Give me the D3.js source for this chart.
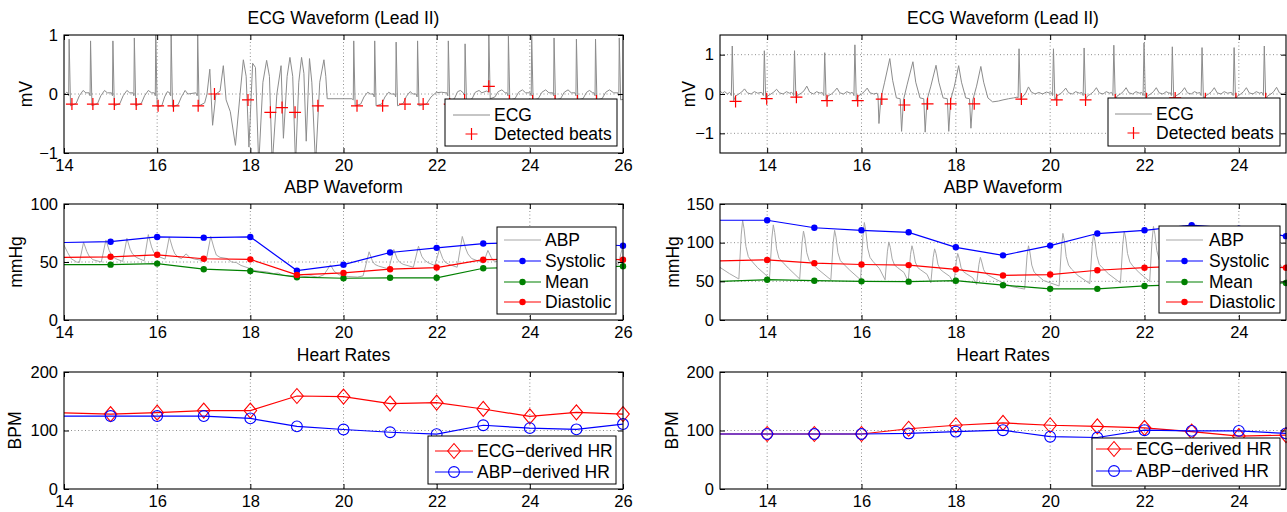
<!DOCTYPE html>
<html>
<head>
<meta charset="utf-8">
<script src="https://cdn.jsdelivr.net/npm/d3@7"></script>
<style>
  body { margin: 0; background: #fff; }
  svg { display: block; }
</style>
</head>
<body>
<svg id="chart" width="1287" height="512"></svg>
<script>
// ---- data ----

// ECG waveform, left record: [time s, mV]
const ecgLeft = [
  [13.95,0.02],[14.02,0.0],[14.06,0.03],
  [14.08,0.02],[14.10,-0.03],[14.11,0.93],[14.14,-0.2],[14.26,-0.16],[14.33,-0.03],[14.41,0.06],[14.47,0.02],
  [14.54,0.02],[14.56,-0.03],[14.57,0.9],[14.60,-0.2],[14.72,-0.16],[14.79,-0.03],[14.87,0.06],[14.93,0.02],
  [15.02,0.02],[15.04,-0.03],[15.05,0.9],[15.08,-0.2],[15.20,-0.16],[15.27,-0.03],[15.35,0.06],[15.41,0.02],
  [15.48,0.02],[15.50,-0.03],[15.51,0.95],[15.54,-0.2],[15.66,-0.16],[15.73,-0.03],[15.81,0.06],[15.88,0.02],
  [15.94,0.02],[15.96,-0.03],[15.97,1.0],[16.0,-0.22],[16.1,-0.2],[16.16,-0.05],[16.22,0.04],[16.27,0.02],
  [16.29,-0.03],[16.30,1.0],[16.33,-0.22],[16.45,-0.18],[16.52,-0.05],[16.6,0.06],[16.66,0.0],[16.83,0.02],
  [16.86,-0.03],[16.87,1.0],[16.90,-0.2],[17.02,-0.15],[17.07,0.0],
  [17.13,0.42],[17.19,-0.53],[17.26,0.0],[17.35,0.05],[17.42,0.48],[17.48,-0.1],[17.57,-0.3],[17.68,-0.87],
  [17.78,0.0],[17.85,0.58],[17.91,0.3],[17.97,-0.9],[18.05,0.52],[18.11,0.45],[18.18,-1.2],[18.27,0.2],
  [18.35,0.57],[18.41,0.3],[18.47,-1.2],[18.57,0.0],[18.66,0.48],[18.71,-0.75],[18.79,0.3],[18.85,0.62],
  [18.91,0.3],[18.97,-1.2],[19.04,0.2],[19.1,0.62],[19.15,0.35],[19.2,-0.8],[19.27,0.6],[19.32,0.2],
  [19.4,-1.2],[19.49,0.2],[19.58,0.58],[19.62,0.3],[19.65,-0.08],[20.18,-0.08],
  [20.21,-0.1],[20.22,0.9],[20.25,-0.2],[20.37,-0.17],[20.44,-0.05],[20.52,0.03],[20.58,0.0],
  [20.64,0.0],[20.66,-0.05],[20.67,0.9],[20.70,-0.2],[20.82,-0.17],[20.89,-0.05],[20.97,0.03],[21.03,0.0],
  [21.10,0.0],[21.12,-0.05],[21.13,0.88],[21.16,-0.2],[21.28,-0.16],[21.35,-0.04],[21.43,0.04],[21.49,0.0],
  [21.56,0.0],[21.58,-0.05],[21.59,0.9],[21.62,-0.2],[21.78,-0.17],[21.88,-0.05],[21.98,0.02],[22.1,0.03],[22.2,0.02],
  [22.22,0.02],[22.24,-0.03],[22.25,0.9],[22.28,-0.12],[22.38,-0.08],[22.45,0.04],[22.51,0.06],[22.57,0.02],
  [22.60,-0.03],[22.61,0.85],[22.64,-0.12],[22.76,-0.08],[22.83,0.03],[22.91,0.06],[22.97,0.02],[23.07,0.05],
  [23.11,0.03],[23.12,1.0],[23.15,-0.08],[23.25,-0.05],[23.32,0.04],[23.4,0.07],[23.47,0.02],
  [23.51,0.02],[23.53,-0.03],[23.54,0.98],[23.57,-0.1],[23.68,-0.08],[23.76,0.03],[23.84,0.07],[23.91,0.02],
  [24.01,0.02],[24.03,-0.03],[24.04,0.98],[24.07,-0.1],[24.18,-0.08],[24.26,0.03],[24.34,0.07],[24.41,0.02],
  [24.49,0.02],[24.51,-0.03],[24.52,0.95],[24.55,-0.1],[24.66,-0.08],[24.74,0.03],[24.82,0.07],[24.89,0.02],
  [24.97,0.02],[24.99,-0.03],[25.0,0.93],[25.03,-0.1],[25.14,-0.08],[25.22,0.03],[25.28,0.06],[25.35,0.02],
  [25.38,0.02],[25.40,-0.03],[25.41,0.93],[25.44,-0.1],[25.55,-0.08],[25.63,0.03],[25.71,0.07],[25.8,0.02],
  [25.89,0.02],[25.91,-0.03],[25.92,0.95],[25.95,-0.1],[26.05,-0.08]
];
const beatLeftT = [14.17,14.62,15.08,15.55,16.02,16.35,16.88,17.23,17.95,18.43,18.68,18.96,19.45,
                   20.29,20.84,21.32,21.71,22.28,22.6,23.12,23.56,24.06,24.54,25.02,25.43];
const beatLeftV = [-0.17,-0.17,-0.17,-0.17,-0.2,-0.2,-0.2,0.0,-0.1,-0.31,-0.23,-0.31,-0.2,
                   -0.2,-0.2,-0.17,-0.17,-0.17,-0.1,0.13,-0.12,-0.12,-0.12,-0.12,-0.12];

// ECG waveform, right record
const ecgRight = [
  [12.95,0.05],[13.0,0.08],[13.05,0.02],[13.1,0.06],[13.16,0.0],[13.2,0.04],
  [13.22,0.02],[13.24,-0.04],[13.26,1.22],[13.29,-0.17],[13.33,-0.05],[13.4,0.0],[13.46,0.05],[13.52,0.13],[13.58,0.03],[13.66,0.0],[13.73,0.06],[13.8,0.02],[13.87,0.04],
  [13.9,0.02],[13.92,-0.04],[13.94,1.1],[13.97,-0.15],[14.01,-0.05],[14.08,0.0],[14.14,0.05],[14.2,0.12],[14.26,0.03],[14.34,0.0],[14.41,0.06],[14.47,0.02],[14.52,0.04],
  [14.54,0.02],[14.56,-0.04],[14.58,1.1],[14.61,-0.1],[14.65,-0.03],[14.72,0.02],[14.78,0.08],[14.84,0.2],[14.9,0.05],[14.98,0.0],[15.05,0.06],[15.12,0.02],[15.16,0.04],
  [15.18,0.02],[15.2,-0.04],[15.22,1.05],[15.25,-0.15],[15.29,-0.05],[15.36,0.0],[15.42,0.06],[15.48,0.15],[15.54,0.03],[15.62,0.0],[15.69,0.06],[15.76,0.02],[15.8,0.04],
  [15.82,0.02],[15.84,-0.04],[15.86,1.25],[15.89,-0.17],[15.93,-0.05],[16.0,0.0],[16.06,0.06],[16.12,0.15],[16.18,0.03],[16.26,0.0],[16.33,0.02],
  [16.35,-0.05],[16.37,-0.75],[16.41,-0.12],[16.49,0.3],[16.6,0.9],[16.66,0.35],[16.74,-0.1],[16.82,-0.12],
  [16.85,-0.95],[16.89,-0.15],[16.97,0.25],[17.09,0.82],[17.15,0.3],[17.24,-0.1],[17.32,-0.12],
  [17.35,-0.97],[17.39,-0.15],[17.47,0.2],[17.58,0.73],[17.64,0.3],[17.73,-0.1],[17.82,-0.12],
  [17.85,-0.95],[17.89,-0.15],[17.97,0.2],[18.06,0.72],[18.12,0.3],[18.21,-0.1],[18.29,-0.12],
  [18.32,-0.87],[18.36,-0.15],[18.44,0.2],[18.53,0.7],[18.59,0.3],[18.68,-0.1],[18.78,-0.2],[18.9,-0.18],[19.0,-0.15],[19.12,-0.12],[19.22,-0.1],[19.3,-0.08],
  [19.32,-0.1],[19.34,1.15],[19.37,-0.15],[19.41,-0.08],[19.48,0.02],[19.54,0.18],[19.6,0.05],[19.68,0.0],[19.76,0.04],[19.84,0.0],[19.92,0.05],[20.0,0.02],
  [20.03,0.03],[20.05,-0.04],[20.07,1.15],[20.1,-0.15],[20.14,-0.05],[20.21,0.0],[20.27,0.06],[20.33,0.15],[20.39,0.03],[20.47,0.0],[20.54,0.06],[20.62,0.02],[20.67,0.04],
  [20.68,0.02],[20.7,-0.04],[20.72,1.17],[20.75,-0.15],[20.79,-0.05],[20.86,0.0],[20.92,0.06],[20.98,0.16],[21.04,0.03],[21.12,0.0],[21.19,0.06],[21.26,0.02],[21.3,0.04],
  [21.31,0.02],[21.33,-0.04],[21.35,1.24],[21.38,-0.15],[21.42,-0.05],[21.49,0.0],[21.55,0.06],[21.61,0.16],[21.67,0.03],[21.75,0.0],[21.82,0.06],[21.89,0.02],[21.94,0.04],
  [21.95,0.02],[21.97,-0.04],[21.99,1.3],[22.02,-0.15],[22.06,-0.05],[22.13,0.0],[22.19,0.06],[22.25,0.16],[22.31,0.03],[22.39,0.0],[22.46,0.06],[22.52,0.02],
  [22.55,0.03],[22.57,-0.04],[22.59,1.2],[22.62,-0.15],[22.66,-0.05],[22.73,0.0],[22.79,0.06],[22.85,0.16],[22.91,0.03],[22.99,0.0],[23.06,0.06],[23.13,0.02],[23.17,0.04],
  [23.18,0.02],[23.2,-0.04],[23.22,1.18],[23.25,-0.15],[23.29,-0.05],[23.36,0.0],[23.42,0.06],[23.48,0.16],[23.54,0.03],[23.62,0.0],[23.69,0.06],[23.76,0.02],[23.84,0.04],
  [23.86,0.02],[23.88,-0.04],[23.9,1.18],[23.93,-0.15],[23.97,-0.05],[24.04,0.0],[24.1,0.06],[24.16,0.16],[24.22,0.03],[24.3,0.0],[24.37,0.06],[24.44,0.02],[24.49,0.04],
  [24.5,0.02],[24.52,-0.04],[24.54,1.22],[24.57,-0.15],[24.61,-0.05],[24.68,0.0],[24.74,0.06],[24.8,0.17],[24.86,0.03],[24.94,0.0],[25.01,0.06],[25.08,0.02]
];
const beatRightT = [13.33,13.99,14.62,15.27,15.92,16.43,16.91,17.40,17.89,18.39,19.39,20.14,20.75,21.38,22.04,22.65,23.29,23.94,24.57];
const beatRightV = [-0.19,-0.12,-0.08,-0.17,-0.17,-0.13,-0.28,-0.25,-0.25,-0.25,-0.13,-0.15,-0.15,-0.15,-0.12,-0.1,-0.12,-0.12,-0.12];

// ABP waveform, left record: [time s, mmHg]
const abpLeft = [
  [13.95,66],[14.0,64.5],[14.08,58],[14.15,53],[14.27,50],[14.33,49.5],
  [14.42,67],[14.49,59],[14.54,55],[14.62,52],[14.8,50],
  [14.9,69],[14.97,60],[15.02,56],[15.1,53],[15.26,50.5],
  [15.35,70.4],[15.42,61],[15.47,57],[15.55,54],[15.72,51],
  [15.81,73.6],[15.88,63],[15.93,58],[16.01,55],[16.17,52.5],
  [16.26,71.6],[16.33,62],[16.38,57],[16.46,54],[16.52,53],
  [16.62,57],[16.7,54],[16.8,52.5],[17.05,51],
  [17.15,72],[17.22,62],[17.27,56],[17.35,54],[17.5,53],[17.6,50],[17.7,49.5],[17.8,47],[17.95,45],
  [18.05,43],[18.2,42],[18.35,41.5],[18.5,40],[18.6,40.5],[18.7,38.5],[18.85,38],[19.0,38.5],
  [19.15,37.5],[19.3,38],[19.45,37],[19.58,39],
  [19.72,47.5],[19.8,42],[19.9,39],[20.1,37.5],[20.3,37],[20.42,38],
  [20.55,58.8],[20.62,51],[20.67,48],[20.75,46.5],[20.97,44],
  [21.08,60.8],[21.15,53],[21.2,50],[21.28,48],[21.5,45.5],
  [21.61,63.6],[21.68,55],[21.73,52],[21.81,49.5],[21.96,47],
  [22.06,60.8],[22.13,53],[22.18,50],[22.26,48],[22.44,45.5],
  [22.55,72],[22.62,62],[22.67,57],[22.75,53],[22.95,50],[23.0,49],
  [23.1,60],[23.17,54],[23.22,51],[23.32,50],[23.5,48],
  [23.6,66],[23.67,57],[23.72,53],[23.8,50],[23.98,48],
  [24.08,66],[24.15,57],[24.2,53],[24.28,50],[24.45,48],
  [24.55,65],[24.62,57],[24.67,53],[24.75,50],[24.95,48],
  [25.05,65],[25.12,57],[25.17,53],[25.25,50],[25.45,48],
  [25.55,64],[25.62,56],[25.67,52],[25.75,50],[25.9,48],
  [25.99,63],[26.05,57]
];

// ABP waveform, right record
const abpRight = [
  [12.95,72],[13.0,68],[13.2,60],[13.4,53],
  [13.45,110],[13.48,129],[13.51,118],[13.55,95],[13.6,82],[13.66,77],[13.8,67.5],[14.05,54],
  [14.1,106],[14.13,123],[14.16,113],[14.2,92],[14.25,80],[14.31,76],[14.45,67],[14.69,53],
  [14.74,100],[14.77,115],[14.8,106],[14.84,87],[14.89,77],[14.95,73],[15.09,65],[15.35,52],
  [15.4,100],[15.43,116],[15.46,107],[15.5,87],[15.55,77],[15.61,73],[15.75,64.5],[15.98,52],
  [16.03,108],[16.06,126],[16.09,116],[16.13,93],[16.18,81],[16.24,76],[16.38,66.5],[16.5,52],
  [16.55,89],[16.58,101],[16.61,94],[16.65,79],[16.7,71],[16.76,68],[16.9,61.5],[16.99,50],
  [17.04,85],[17.07,96],[17.1,89],[17.14,75],[17.19,68],[17.25,65],[17.39,59],[17.47,48],
  [17.52,81],[17.55,92],[17.58,86],[17.62,72],[17.67,65.5],[17.73,62.5],[17.87,56.5],[17.96,47],
  [18.01,76],[18.04,86],[18.07,80],[18.11,68],[18.16,62.5],[18.22,60],[18.36,54.5],[18.44,46],
  [18.49,72],[18.52,81],[18.55,75],[18.59,65],[18.64,60],[18.7,57.5],[18.84,53],[19.0,48],[19.2,43],[19.46,40],
  [19.51,83],[19.54,96],[19.57,88],[19.61,71],[19.66,62],[19.72,58.5],[19.86,51],[20.19,44],
  [20.24,95],[20.27,112],[20.3,103],[20.34,82],[20.39,71],[20.45,66],[20.59,57.5],[20.84,47],
  [20.89,95],[20.92,111],[20.95,102],[20.99,83],[21.04,72],[21.1,68],[21.24,59.5],[21.49,48],
  [21.54,98],[21.57,115],[21.6,106],[21.64,86],[21.69,75],[21.75,70],[21.89,61],[22.11,50],
  [22.16,103],[22.19,121],[22.22,111],[22.26,90],[22.31,78],[22.37,73],[22.51,64],[22.74,50],
  [22.79,104],[22.82,122],[22.85,112],[22.89,91],[22.94,79],[23.0,74],[23.14,64],[23.39,50],
  [23.44,101],[23.47,118],[23.5,109],[23.54,89],[23.59,77],[23.65,72],[23.79,63.5],[24.04,50],
  [24.09,99],[24.12,116],[24.15,107],[24.19,88],[24.24,76],[24.3,72],[24.44,63],[24.66,49],
  [24.71,93],[24.74,108],[24.77,100],[24.81,82],[24.86,72.5],[24.92,68.5],[25.06,60.5],[25.1,59]
];

// per-second ABP features
const secLeft = [14,15,16,17,18,19,20,21,22,23,24,25,26];
const sysLeft = [66.8,67.5,71.6,71,71.6,42.6,47.7,58.2,62.2,65.9,67,66.5,64];
const meanLeft = [47.7,47.7,48.6,43.8,42.3,36.9,36,36.4,36.4,44.6,45.5,46,46.3];
const diaLeft = [54,54.5,56.2,52.8,52.3,38.9,40.6,43.8,45.2,52,52.5,52.5,52];

const secRight = [13,14,15,16,17,18,19,20,21,22,23,24,25];
const sysRight = [129,129,119.3,116,113.4,94,83.6,96.2,111.8,116,122.7,118,108.4];
const meanRight = [50,52.1,50.8,50,49.6,50.8,45,40.3,40.3,44,46,47,47.9];
const diaRight = [76.5,77.7,73.5,71.8,71,65.5,57.6,58.8,64.3,67.6,70,70,67.6];

// heart rates (BPM)
const ecgHrLeft = [130,128,130.5,134,134,159,158,146,147.7,136.8,124,131,128];
const abpHrLeft = [124.7,124.7,124.7,124.7,120.7,107,101.7,97,93.7,109,104,102,111];
const ecgHrRight = [94,94,94,94,103,109,113,109,107,104.5,98,90.5,92];
const abpHrRight = [94,94,94,94,95,98,100.5,89.4,88,100.5,99.4,99.4,95];

const xTicksLeft = [14,16,18,20,22,24,26];
const xTicksRight = [14,16,18,20,22,24];

// ---- drawing ----
const FONT = '"Liberation Sans", Arial, Helvetica, sans-serif';
const BLUE = "#0000ff", GREEN = "#008000", RED = "#ff0000";
const ECG_GREY = "#8c8c8c", ABP_GREY = "#a8a8a8";
const fmt = d3.format("d");
const svg = d3.select("#chart").attr("font-family", FONT);
let clipCount = 0;

function makeAxes(o) {
  const x = d3.scaleLinear().domain(o.xDomain).range([o.left, o.right]);
  const y = d3.scaleLinear().domain(o.yDomain).range([o.bottom, o.top]);
  const clipId = "clip" + (clipCount++);
  svg.append("clipPath").attr("id", clipId)
    .append("rect")
    .attr("x", o.left).attr("y", o.top)
    .attr("width", o.right - o.left).attr("height", o.bottom - o.top);

  // dotted grid
  const grid = svg.append("g")
    .attr("stroke", "#000").attr("stroke-width", 0.8)
    .attr("stroke-dasharray", "1,2.5").attr("opacity", 0.55);
  grid.selectAll(".gx")
    .data(o.xTicks.filter(t => t > o.xDomain[0] && t < o.xDomain[1]))
    .join("line").attr("class", "gx")
    .attr("x1", d => x(d)).attr("x2", d => x(d))
    .attr("y1", o.top).attr("y2", o.bottom);
  grid.selectAll(".gy")
    .data(o.yTicks.filter(t => t > o.yDomain[0] && t < o.yDomain[1]))
    .join("line").attr("class", "gy")
    .attr("y1", d => y(d)).attr("y2", d => y(d))
    .attr("x1", o.left).attr("x2", o.right);

  return { x, y, clipId, o };
}

function finishAxes(A) {
  const { x, y, o } = A;
  const style = g => g.attr("font-family", FONT).attr("font-size", 16.5)
    .call(s => s.select(".domain").remove());
  svg.append("g").attr("transform", `translate(0,${o.bottom})`)
    .call(d3.axisBottom(x).tickValues(o.xTicks).tickFormat(fmt).tickSizeInner(-5).tickSizeOuter(0).tickPadding(6))
    .call(style);
  svg.append("g").attr("transform", `translate(0,${o.top})`)
    .call(d3.axisTop(x).tickValues(o.xTicks).tickSizeInner(-5).tickSizeOuter(0).tickFormat(""))
    .call(style);
  svg.append("g").attr("transform", `translate(${o.left},0)`)
    .call(d3.axisLeft(y).tickValues(o.yTicks).tickFormat(fmt).tickSizeInner(-5).tickSizeOuter(0).tickPadding(6))
    .call(style);
  svg.append("g").attr("transform", `translate(${o.right},0)`)
    .call(d3.axisRight(y).tickValues(o.yTicks).tickSizeInner(-5).tickSizeOuter(0).tickFormat(""))
    .call(style);

  svg.append("rect")
    .attr("x", o.left).attr("y", o.top)
    .attr("width", o.right - o.left).attr("height", o.bottom - o.top)
    .attr("fill", "none").attr("stroke", "#000").attr("stroke-width", 1.1);

  svg.append("text")
    .attr("x", (o.left + o.right) / 2).attr("y", o.top - 11)
    .attr("text-anchor", "middle").attr("font-size", 17.5)
    .text(o.title);

  svg.append("text")
    .attr("transform", `translate(${o.ylabelX},${(o.top + o.bottom) / 2}) rotate(-90)`)
    .attr("text-anchor", "middle").attr("font-size", 17.5)
    .text(o.ylabel);
}

function waveform(A, pts, color) {
  const line = d3.line().x(d => A.x(d[0])).y(d => A.y(d[1]));
  svg.append("path").datum(pts)
    .attr("clip-path", `url(#${A.clipId})`)
    .attr("fill", "none").attr("stroke", color).attr("stroke-width", 1)
    .attr("d", line);
}

function series(A, t, v, color, marker) {
  const line = d3.line().x((d, i) => A.x(t[i])).y(d => A.y(d));
  svg.append("path").datum(v)
    .attr("clip-path", `url(#${A.clipId})`)
    .attr("fill", "none").attr("stroke", color).attr("stroke-width", 1.2)
    .attr("d", line);
  const dom = A.x.domain();
  const pts = t.map((d, i) => [d, v[i]]).filter(d => d[0] > dom[0] && d[0] <= dom[1]);
  drawMarkers(svg.append("g"), pts.map(d => [A.x(d[0]), A.y(d[1])]), color, marker);
}

function drawMarkers(g, xy, color, marker) {
  if (marker === "dot") {
    g.selectAll("circle").data(xy).join("circle")
      .attr("cx", d => d[0]).attr("cy", d => d[1]).attr("r", 3.2).attr("fill", color);
  } else if (marker === "circle") {
    g.selectAll("circle").data(xy).join("circle")
      .attr("cx", d => d[0]).attr("cy", d => d[1]).attr("r", 5.4)
      .attr("fill", "none").attr("stroke", color).attr("stroke-width", 1.1);
  } else if (marker === "diamond") {
    g.selectAll("path").data(xy).join("path")
      .attr("transform", d => `translate(${d[0]},${d[1]})`)
      .attr("d", "M0,-7.5L6.3,0L0,7.5L-6.3,0Z")
      .attr("fill", "none").attr("stroke", color).attr("stroke-width", 1.1);
  } else if (marker === "plus") {
    g.selectAll("path").data(xy).join("path")
      .attr("transform", d => `translate(${d[0]},${d[1]})`)
      .attr("d", "M-6,0H6M0,-6V6")
      .attr("fill", "none").attr("stroke", color).attr("stroke-width", 1.2);
  }
}

function legend(box, rows, lineX, textX, items) {
  const g = svg.append("g");
  g.append("rect")
    .attr("x", box[0]).attr("y", box[1])
    .attr("width", box[2] - box[0]).attr("height", box[3] - box[1])
    .attr("fill", "#fff").attr("stroke", "#000").attr("stroke-width", 1);
  items.forEach((it, i) => {
    const cy = rows[i];
    if (it.line) {
      g.append("line").attr("x1", lineX[0]).attr("x2", lineX[1])
        .attr("y1", cy).attr("y2", cy)
        .attr("stroke", it.color).attr("stroke-width", it.width || 1.2);
    }
    if (it.marker) {
      drawMarkers(g.append("g"), [[(lineX[0] + lineX[1]) / 2, cy]], it.color, it.marker);
    }
    g.append("text").attr("x", textX).attr("y", cy).attr("dy", "0.35em")
      .attr("font-size", 17.5).text(it.label);
  });
}

const COLS = [
  { left: 64, right: 623, xDomain: [14, 26], xTicks: xTicksLeft },
  { left: 720, right: 1286, xDomain: [13, 25], xTicks: xTicksRight }
];
const ROWS = [ { top: 35, bottom: 153 }, { top: 204, bottom: 320 }, { top: 372, bottom: 489 } ];

// ECG panels
const ecgL = makeAxes({ ...COLS[0], ...ROWS[0], yDomain: [-1, 1], yTicks: [-1, 0, 1],
  title: "ECG Waveform (Lead II)", ylabel: "mV", ylabelX: 32 });
waveform(ecgL, ecgLeft, ECG_GREY);
drawMarkers(svg.append("g"), beatLeftT.map((t, i) => [ecgL.x(t), ecgL.y(beatLeftV[i])]), RED, "plus");
finishAxes(ecgL);
legend([445, 99, 617, 146], [115, 134], [453, 490], 494, [
  { label: "ECG", color: ECG_GREY, line: true, width: 1 },
  { label: "Detected beats", color: RED, marker: "plus" }
]);

const ecgR = makeAxes({ ...COLS[1], ...ROWS[0], yDomain: [-1.5, 1.5], yTicks: [-1, 0, 1],
  title: "ECG Waveform (Lead II)", ylabel: "mV", ylabelX: 695 });
waveform(ecgR, ecgRight, ECG_GREY);
drawMarkers(svg.append("g"), beatRightT.map((t, i) => [ecgR.x(t), ecgR.y(beatRightV[i])]), RED, "plus");
finishAxes(ecgR);
legend([1108, 98, 1280, 146], [114, 133], [1115, 1152], 1156, [
  { label: "ECG", color: ECG_GREY, line: true, width: 1 },
  { label: "Detected beats", color: RED, marker: "plus" }
]);

// ABP panels
const abpItems = [
  { label: "ABP", color: ABP_GREY, line: true, width: 1.2 },
  { label: "Systolic", color: BLUE, line: true, marker: "dot" },
  { label: "Mean", color: GREEN, line: true, marker: "dot" },
  { label: "Diastolic", color: RED, line: true, marker: "dot" }
];
const abpL = makeAxes({ ...COLS[0], ...ROWS[1], yDomain: [0, 100], yTicks: [0, 50, 100],
  title: "ABP Waveform", ylabel: "mmHg", ylabelX: 22 });
waveform(abpL, abpLeft, ABP_GREY);
series(abpL, secLeft, sysLeft, BLUE, "dot");
series(abpL, secLeft, meanLeft, GREEN, "dot");
series(abpL, secLeft, diaLeft, RED, "dot");
finishAxes(abpL);
legend([497, 227, 616, 314], [240, 261, 282, 302], [504, 541], 545, abpItems);

const abpR = makeAxes({ ...COLS[1], ...ROWS[1], yDomain: [0, 150], yTicks: [0, 50, 100, 150],
  title: "ABP Waveform", ylabel: "mmHg", ylabelX: 679 });
waveform(abpR, abpRight, ABP_GREY);
series(abpR, secRight, sysRight, BLUE, "dot");
series(abpR, secRight, meanRight, GREEN, "dot");
series(abpR, secRight, diaRight, RED, "dot");
finishAxes(abpR);
legend([1159, 226, 1280, 313], [240, 261, 282, 302], [1166, 1203], 1209, abpItems);

// Heart-rate panels
const hrItems = [
  { label: "ECG\u2212derived HR", color: RED, line: true, marker: "diamond" },
  { label: "ABP\u2212derived HR", color: BLUE, line: true, marker: "circle" }
];
const hrL = makeAxes({ ...COLS[0], ...ROWS[2], yDomain: [0, 200], yTicks: [0, 100, 200],
  title: "Heart Rates", ylabel: "BPM", ylabelX: 21 });
series(hrL, secLeft, ecgHrLeft, RED, "diamond");
series(hrL, secLeft, abpHrLeft, BLUE, "circle");
finishAxes(hrL);
legend([428, 436, 616, 484], [451, 472], [435, 473], 477, hrItems);

const hrR = makeAxes({ ...COLS[1], ...ROWS[2], yDomain: [0, 200], yTicks: [0, 100, 200],
  title: "Heart Rates", ylabel: "BPM", ylabelX: 678 });
series(hrR, secRight, ecgHrRight, RED, "diamond");
series(hrR, secRight, abpHrRight, BLUE, "circle");
finishAxes(hrR);
legend([1092, 438, 1280, 486], [449, 471], [1096, 1132], 1136, hrItems);
</script>
</body>
</html>
